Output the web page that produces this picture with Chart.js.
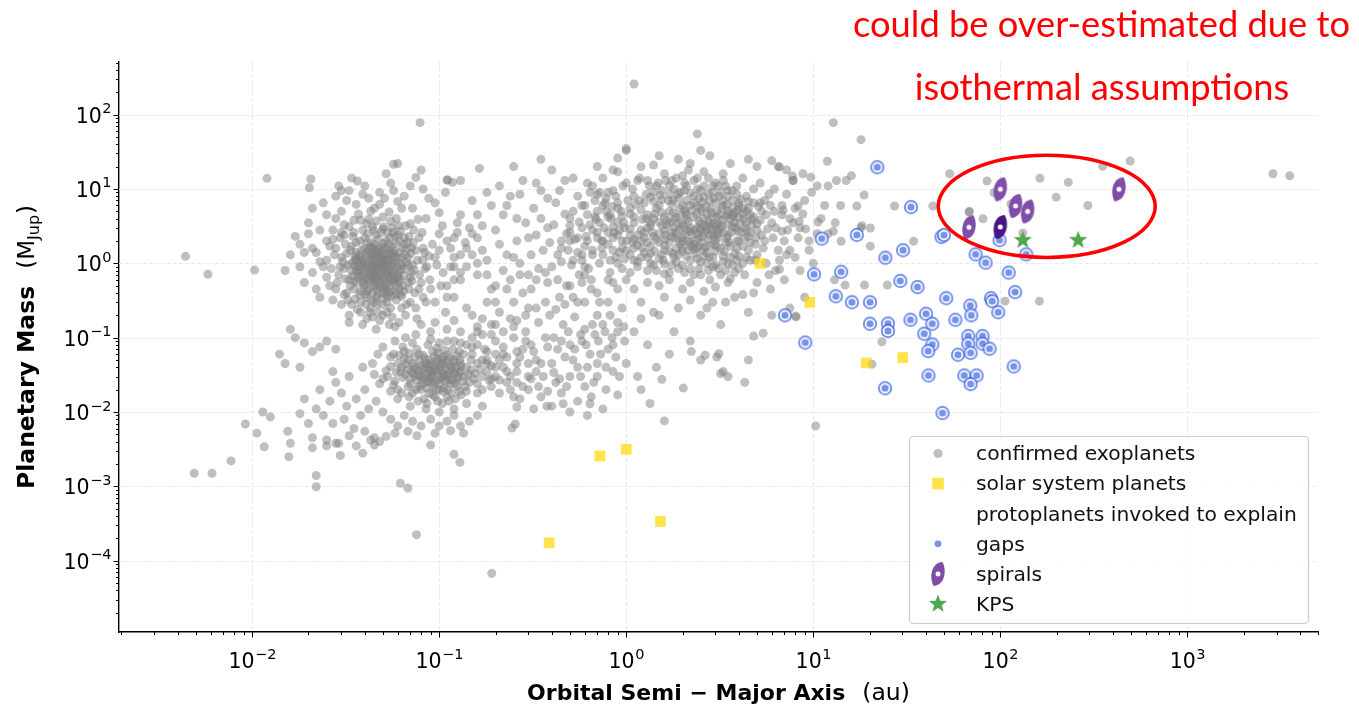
<!DOCTYPE html>
<html>
<head>
<meta charset="utf-8">
<title>Planetary mass vs semi-major axis</title>
<script src="https://cdn.jsdelivr.net/npm/chart.js@4.4.1/dist/chart.umd.min.js"></script>
<style>
  html, body { margin: 0; padding: 0; background: #fff; }
  #wrap { width: 1359px; height: 708px; }
</style>
</head>
<body>
<div id="wrap"><canvas id="massChart" width="1359" height="708"></canvas></div>
<script>
// values: [semi-major axis (au), mass (M_Jup)]
const exoHotJupiters = [
  [0.040,1.0],[0.045,0.9],[0.050,1.1],[0.043,0.7],[0.047,0.6],[0.052,0.8],[0.055,1.3],[0.038,1.2],[0.042,1.5],[0.048,1.4],
  [0.046,0.5],[0.051,0.45],[0.044,0.4],[0.057,0.55],[0.060,0.7],[0.036,0.8],[0.039,0.55],[0.041,0.35],[0.053,0.35],[0.058,0.42],
  [0.049,0.75],[0.054,0.62],[0.037,0.65],[0.062,1.0],[0.064,0.5],[0.034,1.0],[0.033,0.6],[0.045,1.8],[0.052,2.0],[0.040,2.2],
  [0.056,1.7],[0.061,1.4],[0.066,0.85],[0.043,0.25],[0.050,0.28],[0.047,0.22],[0.055,0.25],[0.059,0.32],[0.035,0.45],[0.031,0.85],
  [0.044,1.1],[0.048,0.95],[0.051,0.58],[0.042,0.82],[0.039,0.95],[0.046,1.25],[0.053,0.95],[0.057,0.8],[0.050,0.4],[0.045,0.3],
  [0.036,1.4],[0.034,1.7],[0.041,1.9],[0.049,2.6],[0.058,2.3],[0.065,1.8],[0.068,1.2],[0.070,0.65],[0.063,0.36],[0.038,0.3],
  [0.030,1.2],[0.029,0.7],[0.032,0.4],[0.028,1.6],[0.054,0.48],[0.047,0.68],[0.043,0.55],[0.040,0.75],[0.037,0.9],[0.060,0.9],
  [0.072,0.95],[0.075,1.5],[0.074,0.4],[0.067,0.28],[0.056,0.19],[0.048,0.17],[0.041,0.18],[0.062,0.6],[0.044,1.35],[0.052,1.6],
  [0.041,0.62],[0.046,0.85],[0.049,0.52],[0.053,0.72],[0.044,0.95],[0.048,1.15],[0.051,1.3],[0.039,1.1],[0.042,0.45],[0.047,0.38],
  [0.055,0.42],[0.058,0.62],[0.061,0.78],[0.037,0.72],[0.035,0.58],[0.043,1.65],[0.050,1.85],[0.057,1.15],[0.063,1.2],[0.045,0.62],
  [0.040,0.52],[0.052,0.52],[0.056,0.95],[0.038,0.42],[0.034,0.78],[0.049,0.88],[0.054,1.05],[0.046,1.45],[0.044,0.72],[0.050,0.65],
  [0.059,0.5],[0.062,0.38],[0.036,1.15],[0.032,1.35],[0.040,1.6],[0.047,2.1],[0.053,2.6],[0.067,1.55],[0.071,0.75],[0.069,0.45],
  [0.025,2.0],[0.022,1.4],[0.024,0.9],[0.027,2.8],[0.031,3.3],[0.035,2.6],[0.038,3.8],[0.044,3.1],[0.050,4.2],[0.056,3.0],
  [0.062,2.7],[0.070,3.4],[0.078,2.2],[0.082,1.6],[0.086,0.9],[0.080,0.55],[0.090,0.45],[0.095,1.2],[0.100,2.5],[0.105,0.75],
  [0.030,5.0],[0.036,6.2],[0.042,7.5],[0.048,9.0],[0.040,11],[0.055,12],[0.065,8.0],[0.072,5.5],[0.085,4.0],[0.095,6.5],
  [0.034,14],[0.052,16],[0.028,8.0],[0.025,4.5],[0.020,2.5],[0.018,1.8],[0.021,0.75],[0.026,0.5],[0.023,0.35],[0.030,0.28],
  [0.033,0.2],[0.039,0.15],[0.046,0.13],[0.058,0.14],[0.066,0.2],[0.075,0.25],[0.085,0.3],[0.110,0.35],[0.120,0.6],[0.115,1.6],
  [0.125,3.5],[0.108,9.0],[0.130,13],[0.080,18],[0.060,22],[0.017,2.3],[0.016,1.3],[0.015,0.8],[0.019,0.55],[0.070,11],
  [0.088,7.5],[0.100,4.8],[0.045,5.5],[0.033,9.5],[0.060,6.8]
];

const exoHotJupiterCore = [
  [0.0405,0.88],[0.0435,0.78],[0.0455,0.66],[0.0475,0.92],[0.0495,1.02],[0.0515,0.86],[0.0535,0.66],[0.0555,0.74],[0.0575,1.02],[0.0595,1.18],
  [0.0385,0.68],[0.0395,0.48],[0.0415,0.42],[0.0445,0.5],[0.0465,0.44],[0.0485,0.58],[0.0505,0.48],[0.0525,0.42],[0.0545,0.56],[0.0565,0.68],
  [0.0375,1.3],[0.0405,1.25],[0.0425,1.08],[0.0445,1.22],[0.0465,1.06],[0.0485,1.28],[0.0505,1.2],[0.0525,1.12],[0.0545,1.5],[0.0565,1.35],
  [0.0355,0.92],[0.0365,1.05],[0.0345,0.68],[0.0335,0.5],[0.0325,0.95],[0.0315,0.62],[0.0305,1.05],[0.0295,0.9],[0.0605,0.56],[0.0625,0.82],
  [0.0645,0.68],[0.0665,1.05],[0.0685,0.95],[0.0655,1.3],[0.0635,1.6],[0.0615,2.0],[0.0585,1.85],[0.0545,2.2],[0.0495,1.65],[0.0455,1.55],
  [0.0425,1.3],[0.0385,1.5],[0.0355,1.25],[0.0415,2.5],[0.0375,2.0],[0.0345,2.3],[0.0445,2.8],[0.0505,3.1],[0.0565,2.6],[0.0605,3.2],
  [0.0435,0.32],[0.0465,0.28],[0.0495,0.34],[0.0525,0.3],[0.0555,0.36],[0.0585,0.38],[0.0405,0.28],[0.0375,0.38],[0.0355,0.33],[0.0615,0.46],
  [0.0645,0.42],[0.0685,0.55],[0.0715,0.58],[0.0735,0.82],[0.0765,1.1],[0.0705,1.35],[0.0725,1.9],[0.0785,0.7],[0.0815,1.1],[0.0835,1.4],
  [0.0395,0.82],[0.0425,0.6],[0.0455,0.78],[0.0485,0.7],[0.0515,0.98],[0.0455,0.98],[0.0435,1.15],[0.0475,1.62],[0.0535,1.82],[0.0575,1.45],
  [0.0335,1.5],[0.0315,1.8],[0.0295,2.2],[0.0275,1.3],[0.0265,0.85],[0.0285,0.55],[0.0325,0.32],[0.0365,0.24],[0.0425,0.22],[0.0525,0.22],
  [0.0412,0.95],[0.0442,0.88],[0.0472,0.8],[0.0502,0.92],[0.0532,1.15],[0.0562,0.9],[0.0392,0.62],[0.0422,0.7],[0.0452,0.57],[0.0482,0.48],
  [0.0512,0.72],[0.0542,0.8],[0.0572,0.6],[0.0382,1.05],[0.0412,1.4],[0.0442,1.6],[0.0472,1.32],[0.0502,1.5],[0.0532,1.35],[0.0492,1.12],
  [0.0362,0.55],[0.0372,0.82],[0.0352,1.1],[0.0602,0.65],[0.0632,0.95],[0.0582,1.25],[0.0462,0.35],[0.0522,0.38],[0.0402,0.38],[0.0432,1.9]
];

const exoHotJupiterEdge = [
  [0.018,0.9],[0.019,1.4],[0.02,3.5],[0.021,5.5],[0.022,0.45],[0.023,2.8],[0.024,6.5],[0.025,1.1],[0.026,1.7],[0.027,0.32],
  [0.028,4.0],[0.029,11],[0.031,2.4],[0.032,7.0],[0.033,0.16],[0.035,3.8],[0.037,4.6],[0.039,8.5],[0.041,3.4],[0.043,5.0],
  [0.046,3.7],[0.048,6.2],[0.051,7.5],[0.054,4.9],[0.057,9.5],[0.059,4.0],[0.063,5.5],[0.066,3.2],[0.069,2.3],[0.073,2.8],
  [0.077,3.9],[0.081,2.6],[0.084,0.85],[0.088,1.25],[0.092,1.8],[0.097,0.95],[0.1,1.5],[0.104,3.2],[0.11,2.0],[0.115,0.9],
  [0.12,1.2],[0.125,2.6],[0.13,0.75],[0.138,1.9],[0.145,3.0],[0.15,1.3],[0.16,2.2],[0.078,0.45],[0.082,0.35],[0.089,0.6],
  [0.095,0.3],[0.102,0.5],[0.108,0.22],[0.07,0.3],[0.076,0.18],[0.063,0.25],[0.061,0.16],[0.054,0.15],[0.05,0.2],[0.044,0.19],
  [0.038,0.22],[0.034,0.28],[0.031,0.38],[0.028,0.45],[0.025,0.65],[0.023,1.05],[0.021,1.6],[0.027,2.1],[0.03,2.6],[0.033,3.1],
  [0.036,1.9],[0.039,2.8],[0.042,3.9],[0.046,2.4],[0.05,2.9],[0.055,3.7],[0.06,2.4],[0.065,2.2],[0.068,1.9],[0.071,1.6]
];

const exoSmallPlanets = [
  [0.08,0.03],[0.09,0.035],[0.10,0.04],[0.11,0.03],[0.095,0.025],[0.085,0.045],[0.12,0.05],[0.13,0.035],[0.105,0.055],[0.075,0.038],
  [0.07,0.028],[0.078,0.022],[0.088,0.018],[0.1,0.02],[0.115,0.024],[0.125,0.028],[0.14,0.04],[0.135,0.06],[0.118,0.07],[0.092,0.065],
  [0.082,0.058],[0.068,0.05],[0.063,0.04],[0.066,0.032],[0.058,0.026],[0.072,0.018],[0.083,0.015],[0.098,0.014],[0.11,0.016],[0.128,0.019],
  [0.145,0.025],[0.155,0.033],[0.16,0.045],[0.15,0.06],[0.14,0.08],[0.12,0.09],[0.1,0.085],[0.087,0.08],[0.076,0.07],[0.065,0.065],
  [0.055,0.055],[0.06,0.045],[0.052,0.036],[0.05,0.028],[0.06,0.02],[0.09,0.028],[0.105,0.033],[0.113,0.042],[0.097,0.047],[0.08,0.042],
  [0.073,0.033],[0.093,0.022],[0.108,0.026],[0.12,0.032],[0.13,0.045],[0.107,0.068],[0.085,0.025],[0.078,0.06],[0.1,0.03],[0.088,0.037],
  [0.17,0.03],[0.18,0.05],[0.19,0.022],[0.2,0.04],[0.175,0.07],[0.16,0.018],[0.14,0.013],[0.12,0.011],[0.1,0.01],[0.085,0.011],
  [0.07,0.012],[0.06,0.015],[0.055,0.019],[0.048,0.024],[0.045,0.032],[0.044,0.045],[0.047,0.06],[0.05,0.075],[0.058,0.09],[0.066,0.1],
  [0.075,0.11],[0.09,0.12],[0.11,0.13],[0.13,0.12],[0.15,0.1],[0.17,0.11],[0.2,0.09],[0.22,0.06],[0.23,0.035],[0.21,0.027],
  [0.24,0.02],[0.26,0.045],[0.28,0.07],[0.3,0.03],[0.25,0.1],[0.19,0.15],[0.16,0.14],[0.12,0.17],[0.095,0.16],[0.08,0.15],
  [0.095,0.038],[0.083,0.032],[0.102,0.045],[0.115,0.036],[0.088,0.05],[0.076,0.027],[0.068,0.022],[0.092,0.017],[0.125,0.022],[0.137,0.03],
  [0.148,0.05],[0.128,0.065],[0.11,0.058],[0.097,0.072],[0.072,0.045],[0.062,0.035],[0.057,0.06],[0.064,0.075],[0.105,0.019],[0.08,0.02],
  [0.04,0.02],[0.036,0.015],[0.032,0.012],[0.03,0.018],[0.028,0.025],[0.026,0.014],[0.024,0.009],[0.027,0.007],[0.031,0.008],[0.035,0.006],
  [0.038,0.009],[0.042,0.011],[0.046,0.014],[0.05,0.01],[0.055,0.008],[0.06,0.0065],[0.065,0.009],[0.072,0.0075],[0.08,0.0065],[0.09,0.008],
  [0.1,0.0065],[0.11,0.0075],[0.12,0.009],[0.13,0.0065],[0.145,0.0075],[0.16,0.009],[0.17,0.012],[0.058,0.0052],[0.045,0.0045],[0.04,0.0055],
  [0.033,0.0048],[0.022,0.011],[0.02,0.007],[0.018,0.0095],[0.021,0.0045],[0.025,0.0042],[0.029,0.0038],[0.036,0.0035],[0.043,0.0042],[0.052,0.0047],
  [0.068,0.0055],[0.076,0.0048],[0.095,0.0052],[0.115,0.0056],[0.135,0.0052],[0.019,0.015],[0.023,0.02],[0.027,0.035],[0.033,0.03],[0.039,0.04],
  [0.016,0.13],[0.017,0.1],[0.019,0.085],[0.021,0.065],[0.023,0.075],[0.025,0.09],[0.028,0.07],[0.014,0.06],[0.015,0.045],[0.018,0.04]
];

const exoSmallCore = [
  [0.082,0.028],[0.087,0.033],[0.092,0.031],[0.097,0.036],[0.103,0.029],[0.108,0.038],[0.113,0.032],[0.118,0.027],[0.123,0.04],[0.128,0.034],
  [0.078,0.036],[0.073,0.041],[0.068,0.037],[0.064,0.029],[0.07,0.024],[0.075,0.02],[0.081,0.024],[0.086,0.021],[0.091,0.025],[0.096,0.02],
  [0.101,0.024],[0.106,0.021],[0.111,0.02],[0.116,0.018],[0.121,0.024],[0.133,0.026],[0.138,0.022],[0.143,0.032],[0.148,0.037],[0.153,0.028],
  [0.084,0.052],[0.089,0.043],[0.094,0.056],[0.099,0.062],[0.104,0.05],[0.109,0.047],[0.114,0.054],[0.119,0.046],[0.124,0.057],[0.129,0.05],
  [0.079,0.048],[0.074,0.055],[0.069,0.062],[0.065,0.052],[0.061,0.058],[0.066,0.044],[0.059,0.034],[0.055,0.041],[0.053,0.03],[0.057,0.023],
  [0.063,0.018],[0.069,0.016],[0.077,0.014],[0.086,0.013],[0.095,0.016],[0.104,0.013],[0.113,0.014],[0.122,0.015],[0.131,0.017],[0.14,0.019],
  [0.16,0.024],[0.165,0.038],[0.17,0.05],[0.18,0.035],[0.185,0.027],[0.19,0.042],[0.2,0.03],[0.21,0.05],[0.22,0.04],[0.24,0.03],
  [0.26,0.025],[0.27,0.055],[0.3,0.045],[0.33,0.035],[0.18,0.065],[0.15,0.075],[0.13,0.085],[0.11,0.09],[0.09,0.095],[0.072,0.085],
  [0.085,0.04],[0.09,0.03],[0.094,0.042],[0.099,0.027],[0.103,0.036],[0.107,0.031],[0.112,0.027],[0.117,0.04],[0.12,0.035],[0.098,0.052],
  [0.078,0.031],[0.082,0.038],[0.074,0.03],[0.087,0.026],[0.093,0.034],[0.106,0.044],[0.126,0.03],[0.131,0.041],[0.071,0.035],[0.09,0.045]
];

const exoGiants = [
  [1.0,1.5],[1.2,2.0],[1.5,2.5],[1.8,3.0],[2.0,2.2],[2.3,1.8],[2.6,2.6],[3.0,3.2],[3.5,2.4],[4.0,2.0],
  [1.1,3.5],[1.4,4.0],[1.7,5.0],[2.1,4.5],[2.5,5.5],[2.9,4.2],[3.3,6.0],[3.8,4.8],[4.4,3.6],[5.0,2.8],
  [0.9,2.4],[1.05,2.9],[1.3,1.2],[1.6,1.5],[1.9,1.3],[2.2,1.1],[2.7,1.4],[3.2,1.6],[3.6,1.2],[4.2,1.0],
  [1.15,0.9],[1.45,0.8],[1.75,0.95],[2.05,0.75],[2.45,0.85],[2.9,0.9],[3.4,0.8],[1.25,2.6],[1.55,3.2],[1.85,2.6],
  [2.15,3.6],[2.4,3.0],[2.75,2.1],[3.1,2.5],[3.7,3.1],[4.6,4.5],[5.3,5.0],[4.8,6.5],[4.1,7.2],[3.5,8.0],
  [2.8,7.0],[2.3,6.5],[1.9,7.5],[1.5,6.0],[1.2,5.2],[0.95,4.3],[0.85,3.1],[0.8,1.8],[0.88,1.2],[0.95,0.85],
  [1.08,1.9],[1.35,1.7],[1.62,2.1],[1.95,1.8],[2.25,2.4],[2.55,1.9],[2.85,2.9],[3.25,3.8],[3.95,2.7],[4.5,2.3],
  [1.65,3.8],[1.98,3.4],[2.6,4.0],[3.05,5.0],[3.7,5.6],[1.3,3.0],[1.75,2.3],[2.1,2.8],[2.45,2.2],[2.95,1.8],
  [1.6,2.8],[1.9,3.4],[2.2,3.0],[2.5,3.4],[2.8,2.4],[3.2,2.9],[1.4,2.3],[1.7,1.9],[2.0,1.6],[2.35,1.35],
  [2.65,1.65],[3.0,2.05],[3.4,1.9],[3.9,1.6],[1.25,1.4],[1.5,1.15],[1.85,1.05],[2.1,1.25],[2.5,1.05],[2.9,1.2],
  [1.55,4.8],[1.85,4.2],[2.25,5.2],[2.7,4.6],[3.1,3.4],[3.6,3.9],[4.3,3.0],[4.0,4.2],[1.35,3.5],[1.15,2.4],
  [2.0,6.0],[2.6,7.8],[3.3,7.0],[1.7,8.5],[2.2,8.8],[4.5,5.5],[5.2,3.8],[0.98,1.15],[1.1,1.6],[1.4,0.95],
  [6.0,3.5],[5.5,2.0],[6.5,1.5],[5.8,8.5],[4.8,10],[3.9,11],[3.0,12],[2.4,10],[1.8,10],[1.4,9.0],
  [1.1,8.0],[0.9,6.5],[0.78,5.0],[0.72,3.5],[0.7,2.2],[0.75,1.3],[0.82,0.75],[1.0,0.6],[1.3,0.55],[1.7,0.6],
  [2.2,0.55],[2.8,0.6],[3.5,0.55],[4.3,0.7],[5.0,1.3],[5.6,1.0],[6.3,0.8],[7.0,2.0],[7.5,4.0],[6.8,6.0],
  [0.65,0.6],[0.6,0.9],[0.55,1.4],[0.5,2.0],[0.58,3.0],[0.62,4.5],[0.68,7.0],[0.85,9.5],[1.0,12],[1.3,13],
  [1.6,16],[2.0,15],[2.6,17],[3.3,16],[4.2,14],[5.2,12],[6.2,10],[7.2,8.5],[8.0,5.5],[8.5,3.0],
  [9.0,7.0],[7.8,13],[10.5,11],[6.5,20],[5.0,20],[3.6,22],[2.2,22],[1.2,20],[0.9,17],[1.0,35],
  [1.5,28],[1.4,21],[1.9,25],[12,11],[16,15],[14,6],[11,4.0],[9.5,2.0],[8.0,1.2],[7.0,0.6],
  [5.9,0.45],[4.8,0.4],[3.8,0.35],[2.9,0.3],[2.2,0.32],[1.6,0.35],[1.2,0.3],[0.9,0.45],[0.7,0.4],[0.58,0.55],
  [10,1.0],[9.0,0.35],[7.5,0.25],[6.0,0.2],[4.5,0.22],[3.2,0.15],[2.5,0.2],[12,2.5],[13,0.6],[18,3.0]
];

const exoGiantCore = [
  [1.3,1.9],[1.45,2.1],[1.6,1.75],[1.75,2.6],[1.9,2.05],[2.05,2.45],[2.2,2.65],[2.35,2.05],[2.5,2.85],[2.7,3.1],
  [2.9,2.6],[3.1,2.2],[3.3,2.6],[3.5,3.3],[3.8,3.5],[4.1,2.6],[4.4,2.8],[1.2,1.2],[1.35,1.35],[1.55,1.3],
  [1.7,1.45],[1.85,1.6],[2.0,1.95],[2.15,1.5],[2.3,1.55],[2.45,1.7],[2.6,1.25],[2.8,1.75],[3.0,1.45],[3.3,1.25],
  [3.6,1.7],[3.9,2.0],[1.1,2.1],[1.2,2.8],[1.35,3.2],[1.5,3.6],[1.65,3.3],[1.8,3.9],[1.95,4.4],[2.1,3.9],
  [2.3,4.2],[2.45,3.7],[2.6,3.2],[2.75,3.7],[2.95,3.4],[3.15,4.5],[3.4,4.3],[3.75,4.2],[4.2,4.6],[4.7,3.3],
  [1.0,2.0],[0.95,1.6],[1.05,1.3],[1.15,1.05],[1.35,1.0],[1.6,0.98],[1.8,1.2],[2.0,0.95],[2.2,0.85],[2.4,1.15],
  [2.7,1.0],[3.0,0.95],[3.3,1.05],[3.7,0.95],[4.0,1.25],[4.5,1.5],[4.9,1.8],[5.3,2.4],[5.7,2.9],[5.0,3.4],
  [1.45,5.5],[1.75,6.3],[2.05,5.2],[2.4,5.9],[2.8,5.4],[3.0,6.5],[3.5,5.0],[4.0,5.8],[1.3,4.5],[1.1,4.2],
  [0.85,2.2],[0.92,2.8],[0.8,2.6],[0.75,2.0],[0.85,1.5],[0.9,1.0],[1.7,0.75],[2.5,0.7],[3.2,0.7],[3.8,0.75],
  [1.55,7.2],[2.1,7.0],[2.5,9.5],[3.2,9.0],[1.25,6.5],[1.05,5.5],[4.4,8.0],[5.2,6.5],[5.6,4.5],[6.2,5.0],
  [0.95,2.0],[1.05,2.4],[1.15,1.75],[1.25,2.2],[1.38,2.6],[1.5,1.9],[1.62,2.4],[1.72,3.5],[1.82,2.2],[1.92,2.8],
  [2.02,3.1],[2.12,2.0],[2.22,1.7],[2.32,2.8],[2.42,2.5],[2.55,2.3],[2.68,2.8],[2.8,3.4],[2.95,2.3],[3.08,2.8],
  [3.25,3.2],[3.45,2.2],[3.65,2.6],[3.85,3.0],[4.05,3.4],[4.3,2.2],[4.6,2.6],[4.95,2.2],[1.1,1.1],[1.22,1.6],
  [1.42,1.45],[1.58,1.1],[1.78,1.35],[1.98,1.45],[2.18,1.9],[2.38,1.6],[2.58,1.5],[2.78,1.2],[3.05,1.7],[3.35,1.45],
  [3.55,1.9],[3.8,1.35],[4.2,1.7],[4.6,1.9],[1.28,4.0],[1.42,4.6],[1.6,4.2],[1.78,4.8],[1.92,5.6],[2.08,4.8],
  [2.2,6.0],[2.38,4.6],[2.52,5.0],[2.68,5.9],[2.85,4.8],[3.05,4.2],[3.25,5.5],[3.48,4.6],[3.7,4.5],[3.95,5.2],
  [4.25,3.9],[4.7,3.9],[1.18,7.0],[1.35,7.8],[1.52,8.2],[1.68,7.0],[1.88,8.5],[2.05,9.5],[2.3,8.0],[2.55,6.6],
  [2.75,8.8],[2.95,7.5],[3.15,8.0],[3.45,6.2],[3.7,9.5],[4.0,6.5],[4.4,5.0],[0.82,4.5],[0.9,5.5],[0.97,3.5],
  [1.15,13],[1.45,11],[1.75,13],[2.1,11],[2.4,14],[2.9,11],[3.4,11],[0.75,6.0],[0.7,8.5],[0.66,11],
  [1.05,0.75],[1.3,0.8],[1.6,0.72],[1.9,0.85],[2.3,0.7],[2.75,0.8],[3.1,0.85],[3.5,1.0],[3.9,1.1],[4.6,1.1]
];

const exoGiantEdge = [
  [0.45,1.6],[0.48,2.5],[0.5,3.2],[0.52,5.0],[0.55,2.2],[0.58,1.1],[0.6,6.0],[0.62,2.0],[0.64,3.3],[0.66,1.3],
  [0.68,4.2],[0.7,2.6],[0.72,9.0],[0.74,1.6],[0.76,3.0],[0.78,7.5],[0.8,4.2],[0.82,1.1],[0.84,5.8],[0.86,2.6],
  [0.88,8.0],[0.9,3.6],[0.92,1.4],[0.94,5.0],[0.96,11],[0.98,3.0],[1.02,7.0],[1.05,4.6],[1.08,10],[1.12,6.2],
  [1.18,14],[1.22,3.9],[1.28,8.5],[1.33,11],[1.4,6.8],[1.48,12],[1.55,9.5],[1.62,13],[1.7,11],[1.78,7.0],
  [1.85,14],[1.95,9.0],[2.05,12],[2.15,18],[2.3,13],[2.45,7.5],[2.6,11],[2.75,14],[2.9,9.0],[3.1,11],
  [3.3,13],[3.5,9.5],[3.7,7.0],[3.9,8.5],[4.2,5.5],[4.5,6.8],[4.8,4.2],[5.1,5.8],[5.5,7.0],[5.9,6.0],
  [6.3,3.0],[6.8,4.5],[7.3,2.8],[7.8,3.5],[8.3,2.2],[8.8,4.6],[6.1,2.2],[5.4,1.6],[4.9,1.1],[4.4,1.2],
  [4.0,0.85],[3.6,0.62],[3.0,0.48],[2.6,0.42],[2.0,0.45],[1.5,0.5],[1.1,0.45],[0.85,0.55],[0.6,0.7],[0.5,0.5],
  [0.55,0.3],[0.8,0.3],[1.4,0.22],[1.9,0.25],[2.7,0.25],[3.4,0.3],[4.2,0.38],[5.0,0.55],[5.8,0.7],[6.6,1.1],
  [7.2,1.3],[8.5,0.8],[9.5,1.5],[10.5,2.5],[11.5,6.0],[9.8,9.0],[8.8,16],[7.2,18],[4.5,25],[2.8,28]
];

const exoScatter = [
  [0.15,0.2],[0.18,0.3],[0.2,0.5],[0.22,0.8],[0.25,1.2],[0.28,0.4],[0.3,0.25],[0.33,0.6],[0.36,1.5],[0.4,0.9],
  [0.44,0.35],[0.48,0.5],[0.52,1.1],[0.56,0.7],[0.6,0.3],[0.65,0.45],[0.7,0.2],[0.45,2.0],[0.38,3.0],[0.3,2.2],
  [0.26,4.0],[0.2,2.8],[0.17,1.5],[0.14,0.9],[0.16,4.5],[0.19,6.0],[0.24,8.0],[0.32,5.5],[0.42,6.5],[0.5,4.0],
  [0.55,8.0],[0.62,12],[0.47,13],[0.35,9.5],[0.28,13],[0.21,11],[0.75,14],[0.8,9.0],[0.85,18],[0.4,18],
  [0.16,0.12],[0.2,0.15],[0.24,0.18],[0.29,0.12],[0.34,0.16],[0.39,0.2],[0.46,0.15],[0.53,0.19],[0.6,0.13],[0.68,0.11],
  [0.75,0.15],[0.82,0.2],[0.9,0.12],[0.95,0.25],[0.72,0.3],[0.58,0.09],[0.5,0.08],[0.43,0.07],[0.37,0.1],[0.31,0.08],
  [0.26,0.065],[0.22,0.075],[0.33,0.05],[0.4,0.045],[0.47,0.055],[0.55,0.04],[0.64,0.06],[0.7,0.045],[0.8,0.07],[0.88,0.055],
  [0.98,0.09],[1.1,0.12],[1.3,0.08],[1.2,0.18],[1.5,0.2],[1.8,0.12],[2.2,0.09],[0.36,0.03],[0.42,0.025],[0.5,0.03],
  [0.6,0.022],[0.7,0.03],[0.85,0.035],[1.0,0.045],[1.15,0.03],[0.3,0.02],[0.35,0.016],[0.45,0.018],[0.55,0.014],[0.65,0.016],
  [0.78,0.02],[0.9,0.017],[0.27,0.015],[0.32,0.011],[0.4,0.012],[0.5,0.01],[0.62,0.009],[0.75,0.011],[1.2,0.02],[1.45,0.04],
  [1.7,0.06],[2.5,0.05],[3.5,0.03],[4.5,0.05],[0.2,0.3],[0.23,0.45],[0.27,0.7],[0.34,0.85],[0.43,1.3],[0.5,2.6],
  [0.6,1.7],[0.66,2.8],[0.7,5.0],[0.38,0.55],[0.31,0.45],[0.25,0.3],[0.18,0.7],[0.16,1.0],[0.13,1.3],[0.12,2.2],
  [0.17,0.02],[0.19,0.028],[0.21,0.018],[0.23,0.025],[0.25,0.016],[0.28,0.022],[0.31,0.028],[0.34,0.022],[0.38,0.019],[0.41,0.034],
  [0.44,0.028],[0.48,0.022],[0.52,0.05],[0.57,0.03],[0.62,0.04],[0.67,0.025],[0.73,0.06],[0.78,0.04],[0.85,0.08],[0.92,0.03],
  [0.18,0.045],[0.2,0.06],[0.23,0.055],[0.26,0.035],[0.29,0.09],[0.32,0.065],[0.35,0.045],[0.38,0.075],[0.41,0.1],[0.45,0.09],
  [0.49,0.12],[0.53,0.07],[0.57,0.11],[0.61,0.08],[0.66,0.15],[0.71,0.09],[0.77,0.12],[0.84,0.1],[0.9,0.16],[0.97,0.14],
  [0.16,0.08],[0.19,0.11],[0.22,0.12],[0.25,0.14],[0.29,0.2],[0.33,0.25],[0.37,0.3],[0.42,0.24],[0.47,0.28],[0.52,0.35]
];

const exoBridge = [
  [0.11,0.5],[0.12,0.9],[0.13,0.6],[0.14,1.6],[0.15,2.5],[0.16,0.7],[0.17,3.2],[0.18,1.1],[0.19,0.45],[0.21,1.8],
  [0.22,4.5],[0.23,1.3],[0.24,0.6],[0.26,2.0],[0.27,1.0],[0.29,3.5],[0.3,0.7],[0.31,1.3],[0.33,2.4],[0.35,4.0],
  [0.37,0.75],[0.39,1.9],[0.41,3.3],[0.43,0.6],[0.45,1.05],[0.47,4.6],[0.49,1.5],[0.51,0.95],[0.53,2.1],[0.56,3.6],
  [0.58,1.3],[0.61,2.3],[0.63,0.85],[0.66,1.5],[0.69,3.9],[0.72,1.0],[0.74,2.0],[0.77,6.5],[0.8,0.6],[0.83,4.0],
  [0.13,4.5],[0.15,7.0],[0.18,9.0],[0.23,6.0],[0.27,8.5],[0.33,12],[0.38,7.5],[0.44,9.5],[0.52,14],[0.58,6.0],
  [0.64,9.0],[0.7,20],[0.9,26],[0.35,25],[0.25,20],[0.12,0.35],[0.14,0.25],[0.17,0.18],[0.21,0.22],[0.26,0.17]
];

const exoOutliers = [
  [0.0044,1.24],[0.0058,0.71],[0.0103,0.81],[0.012,13.9],[0.0092,0.0069],[0.0106,0.0052],[0.0116,0.0034],[0.0077,0.0022],
  [0.0049,0.0015],[0.0061,0.0015],[0.022,0.0014],[0.022,0.00099],[0.062,0.0011],[0.068,0.00095],[0.0114,0.01],[0.0125,0.0086],
  [0.0157,0.0025],[0.016,0.0038],[0.0155,0.0055],[0.021,0.0033],[0.0296,0.0026],[0.025,0.0035],[0.028,0.0038],[0.039,0.0028],
  [0.045,0.0036],[0.048,0.004],[0.09,0.0036],[0.12,0.0027],[0.129,0.0021],[0.0756,0.000224],[0.191,0.0000677],[0.245,0.0061],
  [0.255,0.0069],[0.46,0.0129],[0.64,0.0129],[0.377,0.012],[0.26,0.0117],[10.3,0.0065],[1.6,0.0076],[1.34,0.013],
  [1.55,0.0275],[2.02,0.021],[2.23,0.065],[2.64,0.058],[3.05,0.055],[3.13,0.061],[3.2,0.033],[3.3,0.035],[4.3,0.025],
  [8.1,0.19],[4.8,0.105],[5.4,0.115],[7.5,1.5],[7.75,14.9],[6.6,19.8],[6.0,24],[1.1,258],[0.079,78],[0.164,18.9],
  [0.11,13.2],[1.0,33],[2.4,55],[2.5,33],[12.8,78],[18,46],[11.9,23.6],[7.8,13],[9.7,14.4],[13.3,13],[15,13],
  [18.7,8.3],[17.1,5.9],[27.2,5.9],[43.6,5.9],[53.6,16],[85,12.8],[92.6,8.9],[163,13.9],[231,12.3],[199,7.75],
  [294,6.0],[353,20.2],[495,23.8],[68.4,5.0],[80.8,3.98],[114,6.3],[132,2.56],[2870,16],[3530,15],[162,0.31],
  [106,0.31],[6.9,5.2],[8.3,5.9],[8.4,3.66],[9.1,2.9],[10.6,3.6],[13.1,3.5],[12.8,2.7],[14.1,1.98],[18.2,3.2],
  [20.2,2.99],[20.2,1.7],[6.8,2.7],[34.4,1.98],[68.1,4.9],[14.8,0.51],[18.8,0.51],[24.9,0.51],[8.05,0.195],
  [23.3,0.088],[20.6,0.044],[6.6,0.83],[0.057,21.5],[0.0206,13.6],[0.0202,10.4],[0.0365,12.8],[0.030,9.5],[0.075,14.3],
  [0.111,13.2],[0.118,12.3],[0.082,10]
];

const solarSystem = [[0.387,0.000174],[0.723,0.00256],[1.0,0.00315],[1.524,0.000338],[5.2,0.999],[9.58,0.299],[19.2,0.0457],[30.1,0.054]];

const gapPlanets = [
  [22,19.6],[33.3,5.7],[11.1,2.15],[17.1,2.41],[48.5,2.27],[50,2.4],[24.3,1.19],[30.2,1.5],[73.8,1.32],[83.5,1.02],
  [99.1,2.05],[137.7,1.32],[10.1,0.71],[14.1,0.77],[29.2,0.58],[36.1,0.48],[111,0.75],[120,0.41],[51.4,0.34],[13.2,0.36],
  [16.1,0.3],[20.1,0.3],[89.2,0.34],[90.6,0.31],[97.5,0.22],[7.06,0.2],[69.1,0.27],[70,0.2],[40.1,0.21],[43.3,0.154],
  [33.1,0.174],[57.5,0.174],[20.1,0.154],[25.1,0.155],[25.1,0.123],[39.2,0.113],[43.3,0.081],[41.2,0.066],[67.4,0.105],[67.4,0.083],
  [80.4,0.105],[80.4,0.083],[87.7,0.071],[59.4,0.059],[69.4,0.0625],[9.06,0.086],[118,0.041],[41.3,0.031],[64.2,0.031],[74.7,0.031],
  [69.4,0.0238],[24.2,0.0209],[49.1,0.0097]
];

const spiralPlanets = [[100,9.9],[120.7,5.9],[140,4.98],[68,3.05],[431,9.9]];
const spiralPlanetsDark = [[100,3.08]];
const kpsPlanets = [[132,2.05],[261,2.05]];

const xTickValues = [1e-2, 1e-1, 1e0, 1e1, 1e2, 1e3];
const xTickLabels = ['10^−2', '10^−1', '10^0', '10^1', '10^2', '10^3'];
const yTickValues = [1e-4, 1e-3, 1e-2, 1e-1, 1e0, 1e1, 1e2];
const yTickLabels = ['10^−4', '10^−3', '10^−2', '10^−1', '10^0', '10^1', '10^2'];

const legendLabels = ['confirmed exoplanets', 'solar system planets', 'protoplanets invoked to explain', 'gaps', 'spirals', 'KPS'];
const noteLines = ['could be over-estimated due to', 'isothermal assumptions'];
// ellipse drawn round the spiral planets: [a min, a max, m min, m max]
const noteEllipse = [46.6, 674, 1.2, 28.4];

const GRAY = 'rgba(128,128,128,0.5)';
const GOLD = 'rgba(255,215,0,0.7)';
const BLUE = 'rgba(65,105,225,0.72)';
const PURPLE = '#7f4ea9';
const PURPLE_DARK = '#4a1486';
const GREEN = '#4ea64e';

function toXY(list) {
  return list.map(p => ({ x: p[0], y: p[1] }));
}

function makeMarker(w, h, draw) {
  const c = document.createElement('canvas');
  c.width = w;
  c.height = h;
  const g = c.getContext('2d');
  g.translate(w / 2, h / 2);
  draw(g);
  return c;
}

function drawSpiral(g, color) {
  g.save();
  g.rotate(0.15);
  g.beginPath();
  g.moveTo(2.5, -12.5);
  g.bezierCurveTo(-9, -10, -8, 6, -2.5, 12.5);
  g.bezierCurveTo(9, 10, 8, -6, 2.5, -12.5);
  g.fillStyle = color;
  g.fill();
  g.restore();
  g.beginPath();
  g.arc(0, 0, 2.5, 0, 2 * Math.PI);
  g.fillStyle = '#fff';
  g.fill();
}

function drawStar(g, color) {
  g.beginPath();
  for (let i = 0; i < 10; i++) {
    const r = i % 2 === 0 ? 9.5 : 4;
    const a = -Math.PI / 2 + i * Math.PI / 5;
    g.lineTo(r * Math.cos(a), r * Math.sin(a));
  }
  g.closePath();
  g.fillStyle = color;
  g.fill();
}

const gapMarker = makeMarker(18, 18, g => {
  g.beginPath(); g.arc(0, 0, 7.2, 0, 2 * Math.PI); g.fillStyle = BLUE; g.fill();
  g.beginPath(); g.arc(0, 0, 5.2, 0, 2 * Math.PI); g.fillStyle = '#fff'; g.fill();
  g.beginPath(); g.arc(0, 0, 3.6, 0, 2 * Math.PI); g.fillStyle = BLUE; g.fill();
});
const spiralMarker = makeMarker(24, 30, g => drawSpiral(g, PURPLE));
const spiralDarkMarker = makeMarker(24, 30, g => drawSpiral(g, PURPLE_DARK));
const starMarker = makeMarker(22, 22, g => drawStar(g, GREEN));

function drawPow(ctx, label, x, baseline, align) {
  const [base, exp] = label.split('^');
  ctx.font = '20.5px "DejaVu Sans"';
  const bw = ctx.measureText(base).width;
  ctx.font = '14.5px "DejaVu Sans"';
  const ew = ctx.measureText(exp).width;
  const left = align === 'right' ? x - bw - ew : x - (bw + ew) / 2;
  ctx.textAlign = 'left';
  ctx.textBaseline = 'alphabetic';
  ctx.font = '20.5px "DejaVu Sans"';
  ctx.fillText(base, left, baseline);
  ctx.font = '14.5px "DejaVu Sans"';
  ctx.fillText(exp, left + bw + 0.5, baseline - 9.5);
}

const decorPlugin = {
  id: 'decor',
  beforeDatasetsDraw(chart) {
    const { ctx, chartArea: ca, scales: { x, y } } = chart;
    ctx.save();
    ctx.strokeStyle = '#e8e8e8';
    ctx.lineWidth = 0.9;
    ctx.setLineDash([4, 2]);
    ctx.beginPath();
    xTickValues.forEach(v => {
      const px = Math.round(x.getPixelForValue(v)) + 0.5;
      ctx.moveTo(px, ca.top);
      ctx.lineTo(px, ca.bottom);
    });
    yTickValues.forEach(v => {
      const py = Math.round(y.getPixelForValue(v)) + 0.5;
      ctx.moveTo(ca.left, py);
      ctx.lineTo(ca.right, py);
    });
    ctx.stroke();
    ctx.restore();
  },
  afterDatasetsDraw(chart) {
    const { ctx, chartArea: ca, scales: { x, y } } = chart;
    ctx.save();

    // red ellipse
    const ex0 = x.getPixelForValue(noteEllipse[0]);
    const ex1 = x.getPixelForValue(noteEllipse[1]);
    const ey0 = y.getPixelForValue(noteEllipse[2]);
    const ey1 = y.getPixelForValue(noteEllipse[3]);
    ctx.beginPath();
    ctx.ellipse((ex0 + ex1) / 2, (ey0 + ey1) / 2, (ex1 - ex0) / 2, (ey0 - ey1) / 2, 0, 0, 2 * Math.PI);
    ctx.strokeStyle = '#ff0000';
    ctx.lineWidth = 3.6;
    ctx.stroke();

    // tick marks
    ctx.strokeStyle = '#000';
    ctx.lineWidth = 1;
    ctx.beginPath();
    for (let e = -3; e <= 3; e++) {
      for (let k = 1; k <= 9; k++) {
        const v = k * Math.pow(10, e);
        if (v < x.min || v > x.max) continue;
        const px = Math.round(x.getPixelForValue(v)) + 0.5;
        ctx.moveTo(px, ca.bottom);
        ctx.lineTo(px, ca.bottom + (k === 1 ? 5.5 : 3));
      }
    }
    for (let e = -5; e <= 2; e++) {
      for (let k = 1; k <= 9; k++) {
        const v = k * Math.pow(10, e);
        if (v < y.min || v > y.max) continue;
        const py = Math.round(y.getPixelForValue(v)) + 0.5;
        ctx.moveTo(ca.left, py);
        ctx.lineTo(ca.left - (k === 1 ? 5.5 : 3), py);
      }
    }
    ctx.stroke();

    // tick labels
    ctx.fillStyle = '#000';
    xTickValues.forEach((v, i) => drawPow(ctx, xTickLabels[i], x.getPixelForValue(v), ca.bottom + 36, 'center'));
    yTickValues.forEach((v, i) => drawPow(ctx, yTickLabels[i], ca.left - 8, y.getPixelForValue(v) + 8, 'right'));

    // axis titles
    const cx = (ca.left + ca.right) / 2;
    ctx.font = 'bold 22px "DejaVu Sans"';
    const xb = 'Orbital Semi − Major Axis';
    const xbw = ctx.measureText(xb).width;
    ctx.font = '23.5px "DejaVu Sans"';
    const xu = '(au)';
    const xuw = ctx.measureText(xu).width;
    const tx = cx - (xbw + 17 + xuw) / 2;
    ctx.font = 'bold 22px "DejaVu Sans"';
    ctx.fillText(xb, tx, 700);
    ctx.font = '23.5px "DejaVu Sans"';
    ctx.fillText(xu, tx + xbw + 17, 700);

    ctx.save();
    ctx.translate(34, 489);
    ctx.rotate(-Math.PI / 2);
    ctx.font = 'bold 23.5px "DejaVu Sans"';
    const yb = 'Planetary Mass';
    ctx.fillText(yb, 0, 0);
    let ty = ctx.measureText(yb).width + 17;
    ctx.font = '23px "DejaVu Sans"';
    ctx.fillText('(M', ty, 0);
    ty += ctx.measureText('(M').width;
    ctx.font = '16px "DejaVu Sans"';
    ctx.fillText('Jup', ty, 5);
    ty += ctx.measureText('Jup').width + 1;
    ctx.font = '23px "DejaVu Sans"';
    ctx.fillText(')', ty, 0);
    ctx.restore();

    // legend
    const lw = 399, lh = 187;
    const lx = ca.right - 10 - lw, ly = ca.bottom - 9 - lh;
    ctx.beginPath();
    ctx.roundRect(lx + 0.5, ly + 0.5, lw, lh, 4);
    ctx.fillStyle = 'rgba(255,255,255,0.85)';
    ctx.fill();
    ctx.strokeStyle = '#cccccc';
    ctx.lineWidth = 1.2;
    ctx.stroke();
    const mx = lx + 29;
    legendLabels.forEach((label, i) => {
      const cy = ly + 17.5 + i * 30.1;
      if (i === 0) {
        ctx.beginPath(); ctx.arc(mx, cy, 4.5, 0, 2 * Math.PI); ctx.fillStyle = GRAY; ctx.fill();
      } else if (i === 1) {
        ctx.fillStyle = GOLD; ctx.fillRect(mx - 5.8, cy - 5.8, 11.6, 11.6);
      } else if (i === 3) {
        ctx.beginPath(); ctx.arc(mx, cy, 3.4, 0, 2 * Math.PI); ctx.fillStyle = BLUE; ctx.fill();
      } else if (i === 4) {
        ctx.drawImage(spiralMarker, mx - 12, cy - 15);
      } else if (i === 5) {
        ctx.drawImage(starMarker, mx - 11, cy - 11);
      }
      ctx.fillStyle = '#111';
      ctx.font = '20.3px "DejaVu Sans"';
      ctx.textAlign = 'left';
      ctx.fillText(label, lx + 67, cy + 6.8);
    });

    // red note above the ellipse
    ctx.fillStyle = '#ff0000';
    ctx.textAlign = 'center';
    ctx.font = '40px Lato';
    const fs = 40 * 497 / ctx.measureText(noteLines[0]).width;
    ctx.font = fs + 'px Lato';
    ctx.fillText(noteLines[0], 1101.5, 36.5);
    ctx.fillText(noteLines[1], 1102, 100);
    ctx.restore();
  }
};

function logAxis(min, max, ticks, side) {
  return {
    type: 'logarithmic',
    min: min,
    max: max,
    grid: { display: false },
    border: { display: true, color: '#000', width: 1.4 },
    ticks: { display: false },
    afterBuildTicks: s => { s.ticks = ticks.map(v => ({ value: v })); },
    afterFit: s => {
      if (side === 'x') s.height = 76;
      else s.width = 119;
    }
  };
}

const allExoplanets = [
  ...exoHotJupiters, ...exoHotJupiterCore, ...exoHotJupiterEdge, ...exoSmallPlanets, ...exoSmallCore,
  ...exoGiants, ...exoGiantCore, ...exoGiantEdge, ...exoScatter, ...exoBridge, ...exoOutliers
];

new Chart(document.getElementById('massChart').getContext('2d'), {
  type: 'scatter',
  data: {
    datasets: [
      {
        label: legendLabels[0],
        data: toXY(allExoplanets),
        pointRadius: 4.5,
        pointBackgroundColor: GRAY,
        pointBorderWidth: 0,
        order: 6
      },
      {
        label: legendLabels[1],
        data: toXY(solarSystem),
        pointStyle: 'rect',
        pointRadius: 7.6,
        pointBackgroundColor: GOLD,
        pointBorderWidth: 0,
        order: 5
      },
      {
        label: legendLabels[3],
        data: toXY(gapPlanets),
        pointStyle: gapMarker,
        pointRadius: 7,
        order: 4
      },
      {
        label: legendLabels[4],
        data: toXY(spiralPlanets),
        pointStyle: spiralMarker,
        pointRadius: 10,
        order: 3
      },
      {
        label: legendLabels[4] + ' (dark)',
        data: toXY(spiralPlanetsDark),
        pointStyle: spiralDarkMarker,
        pointRadius: 10,
        order: 2
      },
      {
        label: legendLabels[5],
        data: toXY(kpsPlanets),
        pointStyle: starMarker,
        pointRadius: 10,
        order: 1
      }
    ]
  },
  options: {
    responsive: false,
    animation: false,
    events: [],
    layout: { padding: { left: 0, top: 62, right: 41, bottom: 0 } },
    plugins: { legend: { display: false }, tooltip: { enabled: false } },
    scales: {
      x: logAxis(0.00194, 5000, xTickValues, 'x'),
      y: logAxis(1.1e-5, 510, yTickValues, 'y')
    }
  },
  plugins: [decorPlugin]
});
</script>
</body>
</html>
